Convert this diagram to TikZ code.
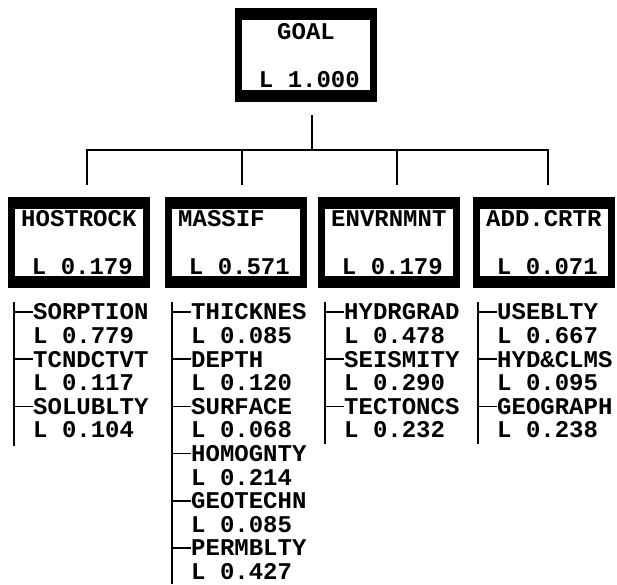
\documentclass[tikz,border=0pt]{standalone}
\usepackage{fontspec}
\setmonofont{Liberation Mono}
\usetikzlibrary{positioning}

\tikzset{
  critbox/.style={rectangle, draw=black, fill=white, line width=7pt, minimum width=135pt, minimum height=84pt, inner sep=0pt,
    path picture={
      \fill[black] (path picture bounding box.north west) rectangle ([yshift=-8.5pt]path picture bounding box.north east);
      \fill[black] (path picture bounding box.south west) rectangle ([yshift=8.5pt]path picture bounding box.south east);}},
  boxtext/.style={inner sep=0pt, font=\fontsize{24}{24}\selectfont\ttfamily\bfseries},
  itemtext/.style={boxtext, anchor=west},
  link/.style={line width=1.7pt}
}

\begin{document}
\begin{tikzpicture}[x=1pt, y=-1pt]
    \useasboundingbox (0,0) rectangle (617,584);

    % goal
    \node [critbox, minimum height=87pt] (goal) at (306,55) {};
    \node [boxtext] (goal-name) at (306,32) {GOAL};
    \node [boxtext, anchor=east] (goal-val) at (360,80) {L 1.000};

    % criteria
    \node [critbox] (host) at (79,242.5) {};
    \node [boxtext, anchor=west] (host-name) at (21,219) {HOSTROCK};
    \node [boxtext, anchor=east] (host-val) at (133,267) {L 0.179};

    \node [critbox] (mass) at (236,242.5) {};
    \node [boxtext, anchor=west] (mass-name) at (178,219) {MASSIF};
    \node [boxtext, anchor=east] (mass-val) at (290,267) {L 0.571};

    \node [critbox] (env) at (389,242.5) {};
    \node [boxtext, anchor=west] (env-name) at (331,219) {ENVRNMNT};
    \node [boxtext, anchor=east] (env-val) at (443,267) {L 0.179};

    \node [critbox] (add) at (544,242.5) {};
    \node [boxtext, anchor=west] (add-name) at (486,219) {ADD.CRTR};
    \node [boxtext, anchor=east] (add-val) at (598,267) {L 0.071};

    % tree
    \coordinate (goal-out) at (312,115);
    \coordinate (bus) at (0,150);
    \coordinate (host-in) at (87,185);
    \coordinate (mass-in) at (242,185);
    \coordinate (env-in) at (397,185);
    \coordinate (add-in) at (548,185);

    \draw [link] (goal-out) -- (goal-out |- bus);
    \draw [link] (host-in) -- (host-in |- bus) -- (add-in |- bus) -- (add-in);
    \draw [link] (mass-in) -- (mass-in |- bus);
    \draw [link] (env-in) -- (env-in |- bus);

    % hostrock
    \node [itemtext] (host-1)  at (33,312)   {SORPTION};
    \node [itemtext] (host-1v) at (33,335.6) {L 0.779};
    \node [itemtext] (host-2)  at (33,359.2) {TCNDCTVT};
    \node [itemtext] (host-2v) at (33,382.8) {L 0.117};
    \node [itemtext] (host-3)  at (33,406.4) {SOLUBLTY};
    \node [itemtext] (host-3v) at (33,430)   {L 0.104};

    \coordinate (host-top) at (14,302);
    \coordinate (host-end) at (14,446);
    \draw [link] (host-top) -- (host-end);
    \draw [link] (host-1.west -| host-top) -- (host-1.west);
    \draw [link] (host-2.west -| host-top) -- (host-2.west);
    \draw [link] (host-3.west -| host-top) -- (host-3.west);

    % massif
    \node [itemtext] (mass-1)  at (191,312)   {THICKNES};
    \node [itemtext] (mass-1v) at (191,335.6) {L 0.085};
    \node [itemtext] (mass-2)  at (191,359.2) {DEPTH};
    \node [itemtext] (mass-2v) at (191,382.8) {L 0.120};
    \node [itemtext] (mass-3)  at (191,406.4) {SURFACE};
    \node [itemtext] (mass-3v) at (191,430)   {L 0.068};
    \node [itemtext] (mass-4)  at (191,453.6) {HOMOGNTY};
    \node [itemtext] (mass-4v) at (191,477.2) {L 0.214};
    \node [itemtext] (mass-5)  at (191,500.8) {GEOTECHN};
    \node [itemtext] (mass-5v) at (191,524.4) {L 0.085};
    \node [itemtext] (mass-6)  at (191,548)   {PERMBLTY};
    \node [itemtext] (mass-6v) at (191,571.6) {L 0.427};

    \coordinate (mass-top) at (172,302);
    \coordinate (mass-end) at (172,584);
    \draw [link] (mass-top) -- (mass-end);
    \draw [link] (mass-1.west -| mass-top) -- (mass-1.west);
    \draw [link] (mass-2.west -| mass-top) -- (mass-2.west);
    \draw [link] (mass-3.west -| mass-top) -- (mass-3.west);
    \draw [link] (mass-4.west -| mass-top) -- (mass-4.west);
    \draw [link] (mass-5.west -| mass-top) -- (mass-5.west);
    \draw [link] (mass-6.west -| mass-top) -- (mass-6.west);

    % envrnmnt
    \node [itemtext] (env-1)  at (344,312)   {HYDRGRAD};
    \node [itemtext] (env-1v) at (344,335.6) {L 0.478};
    \node [itemtext] (env-2)  at (344,359.2) {SEISMITY};
    \node [itemtext] (env-2v) at (344,382.8) {L 0.290};
    \node [itemtext] (env-3)  at (344,406.4) {TECTONCS};
    \node [itemtext] (env-3v) at (344,430)   {L 0.232};

    \coordinate (env-top) at (325,302);
    \coordinate (env-end) at (325,444);
    \draw [link] (env-top) -- (env-end);
    \draw [link] (env-1.west -| env-top) -- (env-1.west);
    \draw [link] (env-2.west -| env-top) -- (env-2.west);
    \draw [link] (env-3.west -| env-top) -- (env-3.west);

    % add.crtr
    \node [itemtext] (add-1)  at (497,312)   {USEBLTY};
    \node [itemtext] (add-1v) at (497,335.6) {L 0.667};
    \node [itemtext] (add-2)  at (497,359.2) {HYD\&CLMS};
    \node [itemtext] (add-2v) at (497,382.8) {L 0.095};
    \node [itemtext] (add-3)  at (497,406.4) {GEOGRAPH};
    \node [itemtext] (add-3v) at (497,430)   {L 0.238};

    \coordinate (add-top) at (478,302);
    \coordinate (add-end) at (478,444);
    \draw [link] (add-top) -- (add-end);
    \draw [link] (add-1.west -| add-top) -- (add-1.west);
    \draw [link] (add-2.west -| add-top) -- (add-2.west);
    \draw [link] (add-3.west -| add-top) -- (add-3.west);
\end{tikzpicture}
\end{document}
